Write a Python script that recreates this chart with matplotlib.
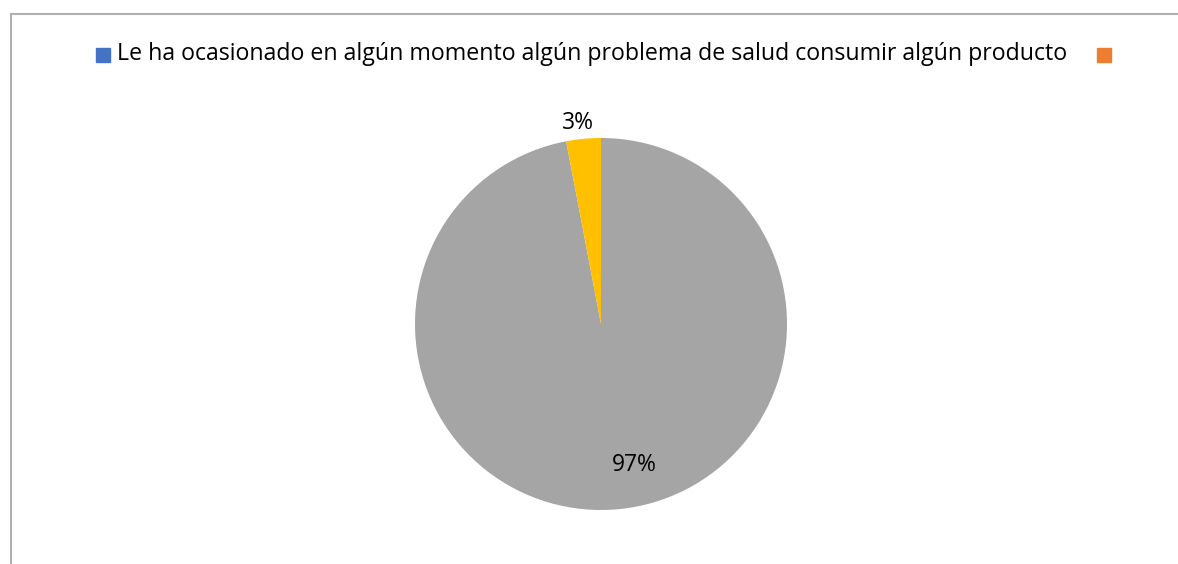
import matplotlib
matplotlib.use("Agg")
import matplotlib.pyplot as plt
from matplotlib.patches import Rectangle
from matplotlib.lines import Line2D
import numpy as np

labels = ["No", "Sí"]
values = [97, 3]
pct_labels = ["97%", "3%"]
slice_colors = ["#A5A5A5", "#FFC000"]
legend_labels = ["Le ha ocasionado en algún momento algún problema de salud consumir algún producto", ""]
legend_colors = ["#4472C4", "#ED7D31"]

W, H = 1178, 564
fig = plt.figure(figsize=(W / 100, H / 100), dpi=100)
plt.rcParams['font.family'] = ['Open Sans', 'DejaVu Sans']

# chart frame (top and left edges visible)
fig.add_artist(Line2D([11 / W, 11 / W], [0, 1 - 14 / H], color="#B0B0B0", lw=1.5))
fig.add_artist(Line2D([11 / W, 1], [1 - 14 / H, 1 - 14 / H], color="#B0B0B0", lw=1.5))

cx, cy, r = 601, 324, 186
ax = fig.add_axes([(cx - r) / W, (H - cy - r) / H, 2 * r / W, 2 * r / H])
wedges, _ = ax.pie(values, colors=slice_colors, startangle=90, counterclock=False,
                   radius=1, wedgeprops=dict(linewidth=0))
ax.set_xlim(-1, 1)
ax.set_ylim(-1, 1)
ax.set_aspect("equal")
ax.axis("off")

# percentage labels
label_pos = [(0.78, 8.0), (1.09, 1.0)]  # (radial distance, angular offset deg)
for w, txt, (dist, off) in zip(wedges, pct_labels, label_pos):
    ang = np.deg2rad((w.theta1 + w.theta2) / 2 + off)
    ax.text(dist * np.cos(ang), dist * np.sin(ang), txt, ha="center", va="center",
            fontsize=16.5, color="#000000", clip_on=False)

# legend
ly = 1 - 54.5 / H
sq = 14
fig.add_artist(Rectangle((96 / W, ly - sq / 2 / H), sq / W, sq / H, color=legend_colors[0],
                         transform=fig.transFigure))
t = fig.text(117 / W, ly, legend_labels[0], ha="left", va="center", fontsize=15, color="#000000")
fig.canvas.draw()
r_ = fig.canvas.get_renderer()
bb = t.get_window_extent(r_)
t.set_fontsize(15 * 947 / bb.width)
fig.add_artist(Rectangle((1097 / W, ly - sq / 2 / H), sq / W, sq / H, color=legend_colors[1],
                         transform=fig.transFigure))

fig.savefig("out.png", dpi=100, facecolor="white")
